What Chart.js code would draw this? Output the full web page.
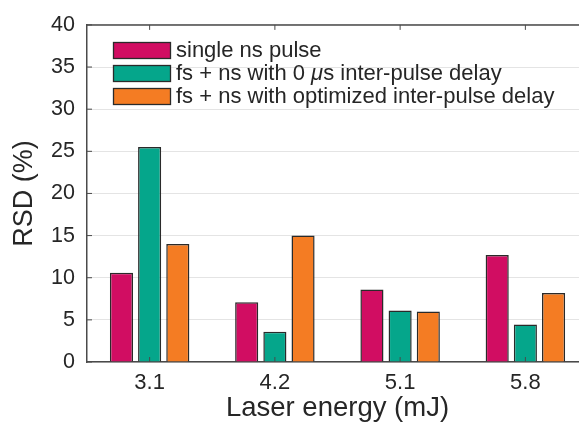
<!DOCTYPE html>
<html>
<head>
<meta charset="utf-8">
<script src="https://cdn.jsdelivr.net/npm/chart.js@4/dist/chart.umd.min.js"></script>
<style>
  html, body { margin: 0; padding: 0; background: #fff; overflow: hidden; }
  #wrap { position: relative; width: 600px; height: 425px; }
</style>
</head>
<body>
<div id="wrap"><canvas id="c" width="600" height="425"></canvas></div>
<script>
const categories = ['3.1', '4.2', '5.1', '5.8'];
const singleNs = [10.6, 7.1, 8.6, 12.7];
const fsNsZeroDelay = [25.5, 3.6, 6.1, 4.45];
const fsNsOptimized = [14.0, 15.0, 6.0, 8.2];
const seriesLabels = ['single ns pulse', 'fs + ns with 0 \u03BCs inter-pulse delay', 'fs + ns with optimized inter-pulse delay'];
const seriesColors = ['#D10D62', '#05A68B', '#F47C23'];
const yTickMin = 0, yTickMax = 40, yTickStep = 5;

const FONT = "'Liberation Sans', Arial, Helvetica, sans-serif";
const TEXT = '#262626';
const AXIS = '#4a4a4a';
const LEG = 22;

const boxPlugin = {
  id: 'boxAndTicks',
  afterDraw(chart) {
    const ctx = chart.ctx, a = chart.chartArea;
    const xs = chart.scales.x, ys = chart.scales.y;
    ctx.save();
    ctx.strokeStyle = AXIS;
    ctx.lineWidth = 1.5;
    ctx.beginPath();
    ctx.moveTo(a.left, a.top); ctx.lineTo(a.right, a.top);
    ctx.moveTo(a.right, a.top); ctx.lineTo(a.right, a.bottom);
    ctx.stroke();
    ctx.lineWidth = 1;
    ctx.beginPath();
    xs.ticks.forEach((t, i) => {
      const px = xs.getPixelForTick(i);
      ctx.moveTo(px, a.bottom); ctx.lineTo(px, a.bottom - 5);
      ctx.moveTo(px, a.top); ctx.lineTo(px, a.top + 5);
    });
    ys.ticks.forEach((t, i) => {
      const py = ys.getPixelForTick(i);
      ctx.moveTo(a.left, py); ctx.lineTo(a.left + 5, py);
    });
    ctx.stroke();
    ctx.restore();
  }
};

const legendPlugin = {
  id: 'customLegend',
  afterDatasetsDraw(chart) {
    const ctx = chart.ctx;
    const bx = 113, bw = 58, bh = 17;
    const rows = [42, 65, 88];
    ctx.save();
    chart.data.datasets.forEach((ds, i) => {
      const y = rows[i];
      ctx.fillStyle = ds.backgroundColor;
      ctx.fillRect(bx, y, bw, bh);
      ctx.strokeStyle = '#2a2a2a';
      ctx.lineWidth = 1.3;
      ctx.strokeRect(bx + 0.5, y + 0.5, bw - 1, bh - 1);
      ctx.fillStyle = TEXT;
      ctx.textBaseline = 'middle';
      ctx.textAlign = 'left';
      const label = ds.label;
      const mu = label.indexOf('\u03BC');
      let x = 176;
      const cy = y + bh / 2 + 0.5;
      ctx.font = LEG + 'px ' + FONT;
      if (mu >= 0) {
        const before = label.slice(0, mu), after = label.slice(mu + 1);
        ctx.fillText(before, x, cy); x += ctx.measureText(before).width;
        ctx.font = 'italic ' + LEG + 'px ' + FONT;
        ctx.fillText('\u03BC', x, cy); x += ctx.measureText('\u03BC').width;
        ctx.font = LEG + 'px ' + FONT;
        ctx.fillText(after, x, cy);
      } else {
        ctx.fillText(label, x, cy);
      }
    });
    ctx.restore();
  }
};

const data = {
  labels: categories,
  datasets: [singleNs, fsNsZeroDelay, fsNsOptimized].map((vals, i) => ({
    label: seriesLabels[i],
    data: vals,
    backgroundColor: seriesColors[i],
    borderColor: '#2a2a2a',
    borderWidth: 1.5,
    categoryPercentage: 0.675,
    barPercentage: 0.82
  }))
};

new Chart(document.getElementById('c'), {
  type: 'bar',
  data,
  options: {
    responsive: false,
    animation: false,
    devicePixelRatio: 1,
    layout: { padding: { top: 23, right: 12, left: 0, bottom: 0 } },
    plugins: { legend: { display: false }, tooltip: { enabled: false } },
    scales: {
      x: {
        grid: { display: false, drawTicks: false },
        border: { display: true, color: AXIS, width: 1.5 },
        ticks: { color: TEXT, font: { family: FONT, size: 22 }, padding: 8, maxRotation: 0 },
        title: { display: true, text: 'Laser energy (mJ)', color: TEXT, font: { family: FONT, size: 27.5 }, padding: { top: 0, bottom: 0 } },
        afterFit(s) { s.height = 63; }
      },
      y: {
        min: yTickMin, max: yTickMax,
        grid: { color: '#e4e4e4', lineWidth: 1, drawTicks: false },
        border: { display: true, color: AXIS, width: 1.5 },
        ticks: { stepSize: yTickStep, color: TEXT, font: { family: FONT, size: 21.5 }, padding: 12 },
        title: { display: true, text: 'RSD (%)', color: TEXT, font: { family: FONT, size: 27 }, padding: { top: 8, bottom: 0 } },
        afterFit(s) { s.width = 87; }
      }
    }
  },
  plugins: [boxPlugin, legendPlugin]
});
</script>
</body>
</html>
